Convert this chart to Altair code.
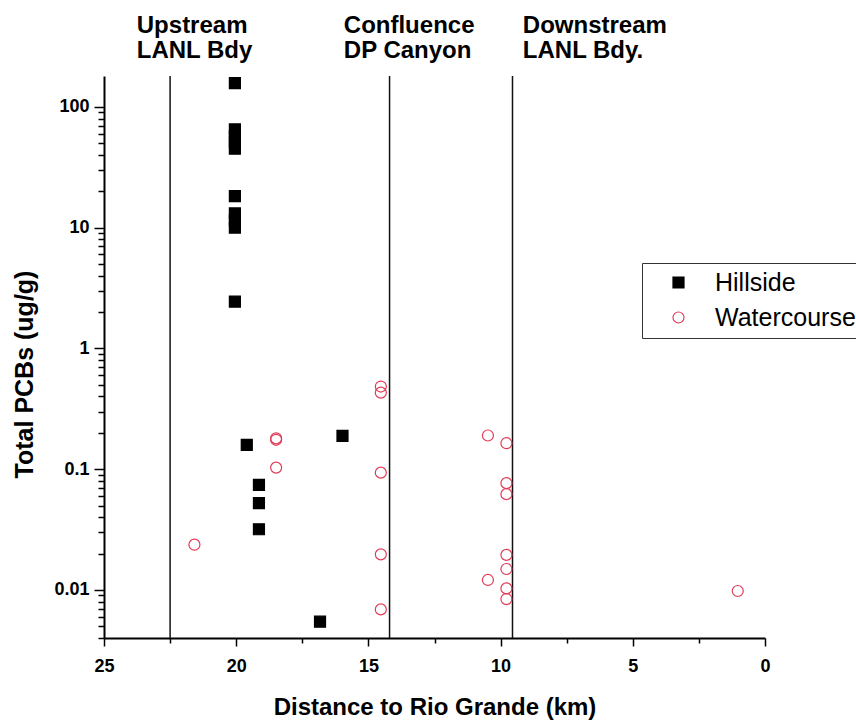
import altair as alt
import pandas as pd

# ---- data ----
hill_km = [20.05, 20.05, 20.05, 20.05, 20.05, 20.05, 20.05, 20.05, 20.05, 20.05,
           19.60, 19.14, 19.14, 19.14, 15.98, 16.83]
hill_val = [157, 65, 57, 51, 45, 18.2, 13.1, 11.5, 10.0, 2.44,
            0.159, 0.0741, 0.0523, 0.0318, 0.1885, 0.00546]

water_km = [21.58, 18.49, 18.49, 18.49,
            14.53, 14.53, 14.53, 14.53, 14.53,
            10.48, 10.48,
            9.78, 9.78, 9.78, 9.78, 9.78, 9.78, 9.78,
            1.03]
water_val = [0.0237, 0.180, 0.175, 0.103,
             0.483, 0.430, 0.0936, 0.0197, 0.0069,
             0.190, 0.0121,
             0.164, 0.0766, 0.0621, 0.0195, 0.0149, 0.0103, 0.0084,
             0.0098]

bdy_km = [22.5, 14.2, 9.55]
note_km = [23.76, 15.93, 9.16]
note_text = ["Upstream\nLANL Bdy", "Confluence\nDP Canyon", "Downstream\nLANL Bdy."]

series_names = ["Hillside", "Watercourse"]
x_ticks = [25, 22.5, 20, 17.5, 15, 12.5, 10, 7.5, 5, 2.5, 0]
y_ticks = [0.004, 0.005, 0.006, 0.007, 0.008, 0.009,
           0.01, 0.02, 0.03, 0.04, 0.05, 0.06, 0.07, 0.08, 0.09,
           0.1, 0.2, 0.3, 0.4, 0.5, 0.6, 0.7, 0.8, 0.9,
           1, 2, 3, 4, 5, 6, 7, 8, 9,
           10, 20, 30, 40, 50, 60, 70, 80, 90,
           100]

FONT = "Liberation Sans"
RED = "#e03c58"
XTITLE = "Distance to Rio Grande (km)"

pts = pd.DataFrame({
    "km": hill_km + water_km,
    "val": hill_val + water_val,
    "series": [series_names[0]] * len(hill_km) + [series_names[1]] * len(water_km),
})
bdy = pd.DataFrame({"km": bdy_km})
notes = pd.DataFrame({"km": note_km, "label": note_text})

xscale = alt.Scale(domain=[0, 25], reverse=True, nice=False, zero=False)
yscale = alt.Scale(type="log", domain=[0.004, 180], nice=False)

major_y = "abs(log(datum.value)/LN10 - round(log(datum.value)/LN10)) < 0.001"

xaxis = alt.Axis(
    values=x_ticks,
    labelExpr="datum.value % 5 == 0 ? format(datum.value, 'd') : ''",
    tickSize={"condition": {"test": "datum.value % 5 == 0", "value": 8}, "value": 5},
    labelFont=FONT, labelFontSize=18, labelFontWeight="bold", labelColor="black",
    labelPadding=11, labelOverlap=False, labelFlush=False,
    titleFont=FONT, titleFontSize=24, titleFontWeight="bold", titleColor="black",
    titlePadding=20,
    domainColor="black", domainWidth=2, tickColor="black", tickWidth=1.5,
    grid=False,
)
yaxis = alt.Axis(
    values=y_ticks,
    labelExpr=major_y + " ? format(datum.value, '~g') : ''",
    tickSize={"condition": {"test": major_y, "value": 10}, "value": 6},
    labelFont=FONT, labelFontSize=18, labelFontWeight="bold", labelColor="black",
    labelPadding=5, labelOverlap=False, labelFlush=False,
    title="Total PCBs (ug/g)",
    titleFont=FONT, titleFontSize=25, titleFontWeight="bold", titleColor="black",
    titleAngle=270, titleBaseline="bottom", titleX=-67, titleY=298,
    domainColor="black", domainWidth=2, tickColor="black", tickWidth=1.5,
    grid=False,
)

legend = alt.Legend(
    title=None, orient="none", legendX=538, legendY=187,
    strokeColor="#333", fillColor="white", padding=7,
    labelFont=FONT, labelFontSize=25, labelColor="black",
    symbolSize=121, symbolStrokeWidth=1.2, symbolOffset=17, labelOffset=24,
    rowPadding=9,
)

rules = alt.Chart(bdy).mark_rule(color="#111", strokeWidth=1.5).encode(
    x=alt.X("km:Q", scale=xscale, axis=xaxis, title=XTITLE),
)

points = alt.Chart(pts).mark_point(size=121, strokeWidth=1.2, opacity=1).encode(
    x=alt.X("km:Q", scale=xscale, axis=xaxis, title=XTITLE),
    y=alt.Y("val:Q", scale=yscale, axis=yaxis),
    shape=alt.Shape("series:N", scale=alt.Scale(domain=series_names, range=["square", "circle"]), legend=legend),
    fill=alt.Fill("series:N", scale=alt.Scale(domain=series_names, range=["black", "transparent"]), legend=legend),
    stroke=alt.Stroke("series:N", scale=alt.Scale(domain=series_names, range=["black", RED]), legend=legend),
)

texts = alt.Chart(notes).mark_text(
    align="left", baseline="alphabetic", font=FONT, fontSize=24, fontWeight="bold",
    color="black", lineBreak="\n", lineHeight=24.5,
).encode(
    x=alt.X("km:Q", scale=xscale, axis=xaxis, title=XTITLE),
    y=alt.value(-43),
    text="label:N",
)

chart = alt.layer(rules, points, texts).properties(
    width=661, height=562,
    padding={"left": 104, "top": 76, "right": 91, "bottom": 83},
    autosize=alt.AutoSizeParams(type="none"),
    background="white",
).configure_view(strokeWidth=0)

chart.save("out.html", embed_options={"renderer": "svg", "actions": False})
